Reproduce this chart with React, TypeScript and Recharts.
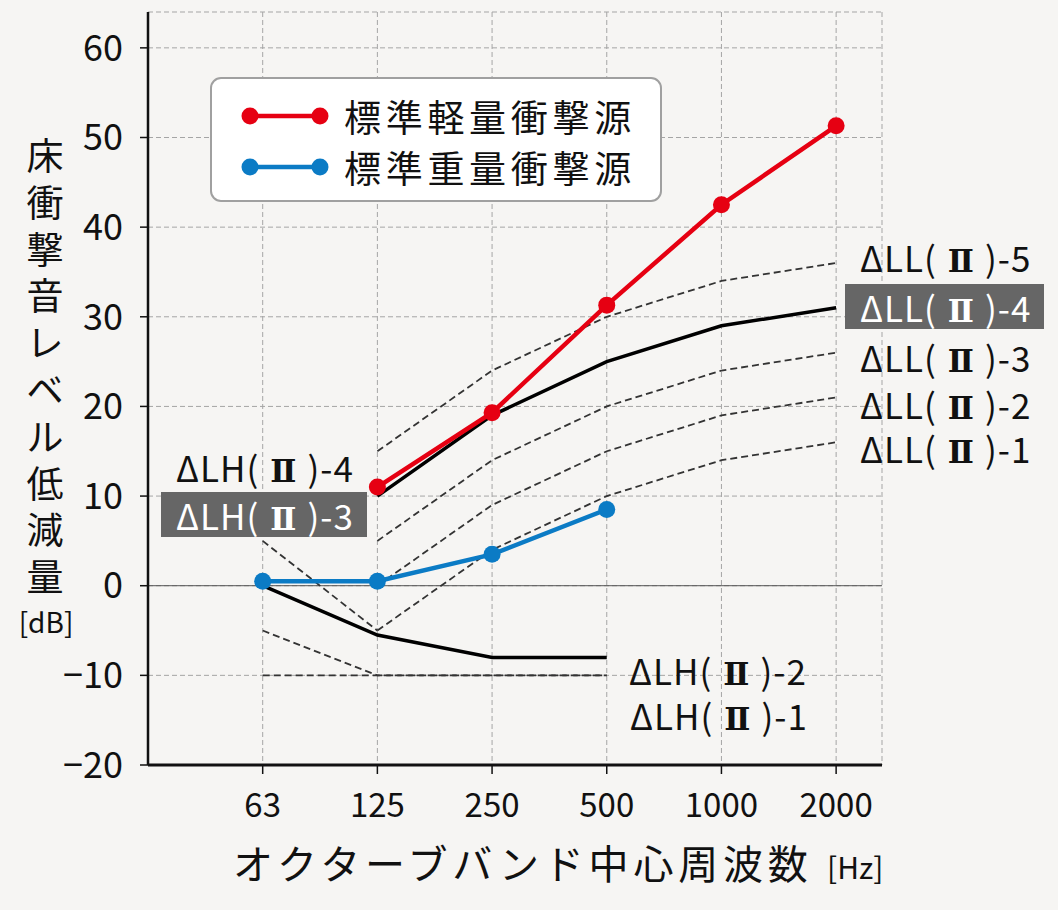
import {
  CartesianGrid,
  Line,
  LineChart,
  ReferenceLine,
  XAxis,
  YAxis,
} from "recharts";

const freqLabels = ["63", "125", "250", "500", "1000", "2000"];
const lightImpact = [null, 11, 19.3, 31.3, 42.5, 51.3];
const heavyImpact = [0.5, 0.5, 3.5, 8.5, null, null];
const ll5 = [null, 15, 24, 30, 34, 36];
const ll4 = [null, 10, 19, 25, 29, 31];
const ll3 = [null, 5, 14, 20, 24, 26];
const ll2 = [null, 0, 9, 15, 19, 21];
const ll1 = [null, -5, 4, 10, 14, 16];
const lh4 = [5, -5, null, null, null, null];
const lh3 = [0, -5.5, -8, -8, null, null];
const lh2 = [-5, -10, -10, -10, null, null];
const lh1 = [-10, -10, -10, -10, null, null];
const yTicks = [-20, -10, 0, 10, 20, 30, 40, 50, 60];

const legendItems = [
  { name: "標準軽量衝撃源", color: "#e60012" },
  { name: "標準重量衝撃源", color: "#0b7bc5" },
];

const data = freqLabels.map((f, i) => ({
  i,
  f,
  light: lightImpact[i],
  heavy: heavyImpact[i],
  ll5: ll5[i],
  ll4: ll4[i],
  ll3: ll3[i],
  ll2: ll2[i],
  ll1: ll1[i],
  lh4: lh4[i],
  lh3: lh3[i],
  lh2: lh2[i],
  lh1: lh1[i],
}));

const FONT = '"Noto Sans CJK JP", "Noto Sans", sans-serif';
const yLabelChars = ["床", "衝", "撃", "音", "レ", "ベ", "ル", "低", "減", "量"];

const dashedKeys = ["ll5", "ll3", "ll2", "ll1", "lh4", "lh2", "lh1"];

const LegendBox = () => (
  <div
    style={{
      position: "absolute",
      left: 210,
      top: 77,
      width: 452,
      height: 125,
      background: "#fff",
      border: "2px solid #a0a0a0",
      borderRadius: 11,
      boxSizing: "border-box",
      fontFamily: FONT,
    }}
  >
    {legendItems.map((it, k) => (
      <div
        key={it.name}
        style={{
          display: "flex",
          alignItems: "center",
          height: 51,
          marginTop: k === 0 ? 11 : 0,
        }}
      >
        <svg width={120} height={30} style={{ marginLeft: 27 }}>
          <line x1={11} y1={15} x2={81} y2={15} stroke={it.color} strokeWidth={4.5} />
          <circle cx={11} cy={15} r={8.5} fill={it.color} />
          <circle cx={81} cy={15} r={8.5} fill={it.color} />
        </svg>
        <span
          style={{
            fontSize: 37,
            letterSpacing: 4.7,
            color: "#111",
            marginLeft: -15,
            lineHeight: "44px",
          }}
        >
          {it.name}
        </span>
      </div>
    ))}
  </div>
);

const CurveLabel = ({ x, y, head, tail, boxed }: { x: number; y: number; head: string; tail: string; boxed?: boolean }) => (
  <div
    style={{
      position: "absolute",
      left: boxed ? x - 15 : x,
      top: boxed ? y - 22 : y - 20,
      height: boxed ? 45 : 40,
      lineHeight: boxed ? "45px" : "40px",
      padding: boxed ? "0 13px 0 15px" : 0,
      background: boxed ? "#666" : "transparent",
      color: boxed ? "#fff" : "#111",
      fontSize: 35,
      letterSpacing: 1,
      fontFamily: FONT,
      whiteSpace: "nowrap",
    }}
  >
    {head}(
    <span style={{ fontFamily: '"DejaVu Serif"', fontWeight: 700, fontSize: 31, margin: "0 10px 0 11px" }}>Ⅱ</span>
    ){tail}
  </div>
);

export default function App() {
  return (
    <div style={{ position: "relative", width: 1058, height: 910, background: "#f6f5f3" }}>
      <style>{`body{margin:0;background:#f6f5f3}`}</style>
      <LineChart
        width={1058}
        height={910}
        data={data}
        margin={{ top: 12, right: 176, left: 0, bottom: 85 }}
      >
        <CartesianGrid stroke="#a5a5a5" strokeDasharray="5 3" strokeWidth={1} />
        <XAxis
          dataKey="i"
          type="number"
          domain={[-1, 5.4]}
          ticks={[0, 1, 2, 3, 4, 5]}
          tickFormatter={(v) => freqLabels[v]}
          height={60}
          tickSize={9}
          tickMargin={20}
          axisLine={{ stroke: "#111", strokeWidth: 3 }}
          tickLine={{ stroke: "#111", strokeWidth: 1.5 }}
          tick={{ fill: "#111", fontSize: 33, fontFamily: FONT }}
        />
        <YAxis
          type="number"
          domain={[-20, 64]}
          ticks={yTicks}
          tickFormatter={(v) => (v < 0 ? `\u2212${-v}` : `${v}`)}
          width={148}
          tickSize={8}
          tickMargin={17}
          axisLine={{ stroke: "#111", strokeWidth: 2.5 }}
          tickLine={{ stroke: "#111", strokeWidth: 1.5 }}
          tick={{ fill: "#111", fontSize: 36, fontFamily: FONT }}
        />
        <ReferenceLine y={0} stroke="#555" strokeWidth={1} />
        {dashedKeys.map((k) => (
          <Line
            key={k}
            dataKey={k}
            type="linear"
            stroke="#333"
            strokeWidth={1.8}
            strokeDasharray="7 4"
            dot={false}
            activeDot={false}
            isAnimationActive={false}
          />
        ))}
        <Line
          dataKey="ll4"
          type="linear"
          stroke="#000"
          strokeWidth={3.5}
          dot={false}
          activeDot={false}
          isAnimationActive={false}
        />
        <Line
          dataKey="lh3"
          type="linear"
          stroke="#000"
          strokeWidth={3.5}
          dot={false}
          activeDot={false}
          isAnimationActive={false}
        />
        <Line
          dataKey="heavy"
          type="linear"
          stroke={legendItems[1].color}
          strokeWidth={4.5}
          dot={{ r: 8.5, fill: legendItems[1].color, stroke: "none" }}
          activeDot={false}
          isAnimationActive={false}
        />
        <Line
          dataKey="light"
          type="linear"
          stroke={legendItems[0].color}
          strokeWidth={4.5}
          dot={{ r: 8.5, fill: legendItems[0].color, stroke: "none" }}
          activeDot={false}
          isAnimationActive={false}
        />
      </LineChart>

      <LegendBox />

      <CurveLabel x={860} y={257} head="ΔLL" tail="-5" />
      <CurveLabel x={860} y={306} head="ΔLL" tail="-4" boxed />
      <CurveLabel x={860} y={357} head="ΔLL" tail="-3" />
      <CurveLabel x={860} y={404} head="ΔLL" tail="-2" />
      <CurveLabel x={860} y={448} head="ΔLL" tail="-1" />
      <CurveLabel x={176} y={467} head="ΔLH" tail="-4" />
      <CurveLabel x={176} y={514} head="ΔLH" tail="-3" boxed />
      <CurveLabel x={629} y={670} head="ΔLH" tail="-2" />
      <CurveLabel x={630} y={715} head="ΔLH" tail="-1" />

      <svg
        width={1058}
        height={910}
        style={{ position: "absolute", left: 0, top: 0, pointerEvents: "none" }}
        fontFamily={FONT}
      >
        {yLabelChars.map((c, k) => (
          <text key={c + k} x={45} y={154 + k * 46.8} fontSize={37} textAnchor="middle" dominantBaseline="central" fill="#111">
            {c}
          </text>
        ))}
        <text x={46} y={621} fontSize={28} textAnchor="middle" dominantBaseline="central" fill="#111">
          [dB]
        </text>
        <text x={233} y={862} fontSize={40} letterSpacing={4.8} dominantBaseline="central" fill="#111">
          オクターブバンド中心周波数
        </text>
        <text x={827} y={866} fontSize={30} dominantBaseline="central" fill="#111">
          [Hz]
        </text>
      </svg>
    </div>
  );
}
